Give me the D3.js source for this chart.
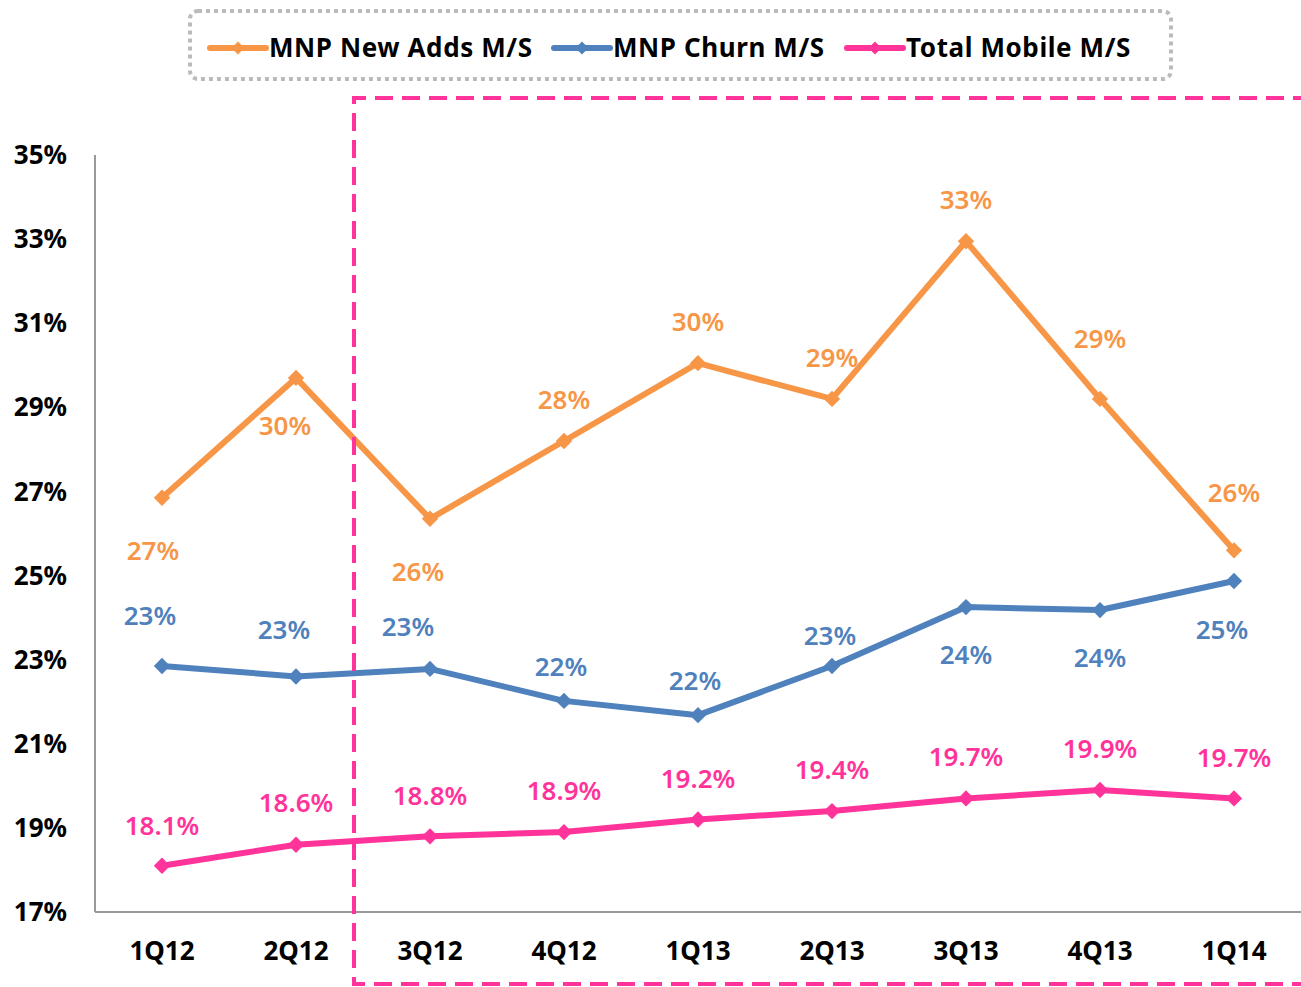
<!DOCTYPE html>
<html>
<head>
<meta charset="utf-8">
<script src="https://cdn.jsdelivr.net/npm/d3@7"></script>
<style>
  body { margin: 0; background: #fff; }
  svg { font-family: "Noto Sans", "DejaVu Sans", sans-serif; }
</style>
</head>
<body>
<svg id="chart" width="1301" height="987"></svg>
<script>
// categories and series
var quarters = ['1Q12', '2Q12', '3Q12', '4Q12', '1Q13', '2Q13', '3Q13', '4Q13', '1Q14'];
var newAdds = [26.85, 29.7, 26.35, 28.2, 30.05, 29.2, 32.95, 29.2, 25.6];
var churn = [22.85, 22.6, 22.78, 22.02, 21.68, 22.85, 24.25, 24.18, 24.87];
var total = [18.1, 18.6, 18.8, 18.9, 19.2, 19.4, 19.7, 19.9, 19.7];
var newAddsLabels = ['27%', '30%', '26%', '28%', '30%', '29%', '33%', '29%', '26%'];
var churnLabels = ['23%', '23%', '23%', '22%', '22%', '23%', '24%', '24%', '25%'];
var totalLabels = ['18.1%', '18.6%', '18.8%', '18.9%', '19.2%', '19.4%', '19.7%', '19.9%', '19.7%'];
var yTicks = [17, 19, 21, 23, 25, 27, 29, 31, 33, 35];

var svg = d3.select('#chart');
var margin = { top: 155, right: 0, bottom: 75, left: 95 };
var width = 1301, height = 987;

var x = d3.scaleBand().domain(quarters).range([margin.left, width - margin.right]);
var y = d3.scaleLinear().domain([17, 35]).range([height - margin.bottom, margin.top]);

var series = [
  { name: 'MNP New Adds M/S', color: '#F79646', values: newAdds, labels: newAddsLabels,
    // label offsets from point (px)
    dy: [53, 48, 53, -41, -41, -41, -41, -60, -57], dx: [-9, -11, -12, 0, 0, 0, 0, 0, 0] },
  { name: 'MNP Churn M/S', color: '#4F81BD', values: churn, labels: churnLabels,
    dy: [-50, -47, -42, -34, -34, -30, 48, 48, 49], dx: [-12, -12, -22, -3, -3, -2, 0, 0, -12] },
  { name: 'Total Mobile M/S', color: '#FF3399', values: total, labels: totalLabels,
    dy: [-40, -42, -40, -41, -41, -41, -42, -41, -41], dx: [0, 0, 0, 0, 0, 0, 0, 0, 0] }
];

// axes lines
svg.append('line')
  .attr('x1', margin.left).attr('x2', margin.left)
  .attr('y1', y(35)).attr('y2', y(17))
  .attr('stroke', '#999').attr('stroke-width', 2);
svg.append('line')
  .attr('x1', margin.left).attr('x2', width)
  .attr('y1', y(17)).attr('y2', y(17))
  .attr('stroke', '#999').attr('stroke-width', 2);

// y tick labels
svg.selectAll('.ytick')
  .data(yTicks)
  .enter().append('text')
  .attr('x', 67)
  .attr('y', d => y(d))
  .attr('dy', '0.35em')
  .attr('text-anchor', 'end')
  .style('font-size', '26px')
  .style('font-weight', 'bold')
  .attr('fill', '#000')
  .text(d => d + '%');

// x labels
svg.selectAll('.xtick')
  .data(quarters)
  .enter().append('text')
  .attr('x', d => x(d) + x.bandwidth() / 2)
  .attr('y', 951)
  .attr('dy', '0.35em')
  .attr('text-anchor', 'middle')
  .style('font-size', '26px')
  .style('font-weight', 'bold')
  .attr('fill', '#000')
  .text(d => d);

var cx = d => x(d) + x.bandwidth() / 2;
var line = d3.line()
  .x((d, i) => cx(quarters[i]))
  .y(d => y(d));
var diamond = d3.symbol().type(d3.symbolDiamond2).size(170);

series.forEach(function(s) {
  svg.append('path')
    .datum(s.values)
    .attr('d', line)
    .attr('fill', 'none')
    .attr('stroke', s.color)
    .attr('stroke-width', 6)
    .attr('stroke-linejoin', 'round');

  svg.selectAll(null)
    .data(s.values)
    .enter().append('path')
    .attr('d', diamond)
    .attr('transform', (d, i) => 'translate(' + cx(quarters[i]) + ',' + y(d) + ')')
    .attr('fill', s.color);

  svg.selectAll(null)
    .data(s.values)
    .enter().append('text')
    .attr('x', (d, i) => cx(quarters[i]) + s.dx[i])
    .attr('y', (d, i) => y(d) + s.dy[i])
    .attr('dy', '0.35em')
    .attr('text-anchor', 'middle')
    .style('font-size', '26px')
    .style('font-weight', '600')
    .attr('fill', s.color)
    .text((d, i) => s.labels[i]);
});

// pink dashed highlight box
svg.append('path')
  .attr('d', 'M' + (width + 10) + ',98 H354 V984 H' + (width + 10))
  .attr('fill', 'none')
  .attr('stroke', '#FF3399')
  .attr('stroke-width', 4)
  .attr('stroke-dasharray', '18,9');

// legend
svg.append('rect')
  .attr('x', 190).attr('y', 11)
  .attr('width', 981).attr('height', 68)
  .attr('rx', 8)
  .attr('fill', 'none')
  .attr('stroke', '#bbb')
  .attr('stroke-width', 4)
  .attr('stroke-dasharray', '4,4');

var legendX = [210, 554, 847];
series.forEach(function(s, i) {
  var g = svg.append('g').attr('transform', 'translate(' + legendX[i] + ',48)');
  g.append('line')
    .attr('x1', 0).attr('x2', 56)
    .attr('stroke', s.color).attr('stroke-width', 6)
    .attr('stroke-linecap', 'round');
  g.append('path')
    .attr('d', d3.symbol().type(d3.symbolDiamond2).size(110))
    .attr('transform', 'translate(28,0)')
    .attr('fill', s.color);
  g.append('text')
    .attr('x', 59)
    .attr('dy', '0.35em')
    .style('font-size', '26px')
    .style('font-weight', 'bold')
    .style('letter-spacing', '0.6px')
    .attr('fill', '#000')
    .text(s.name);
});
</script>
</body>
</html>
